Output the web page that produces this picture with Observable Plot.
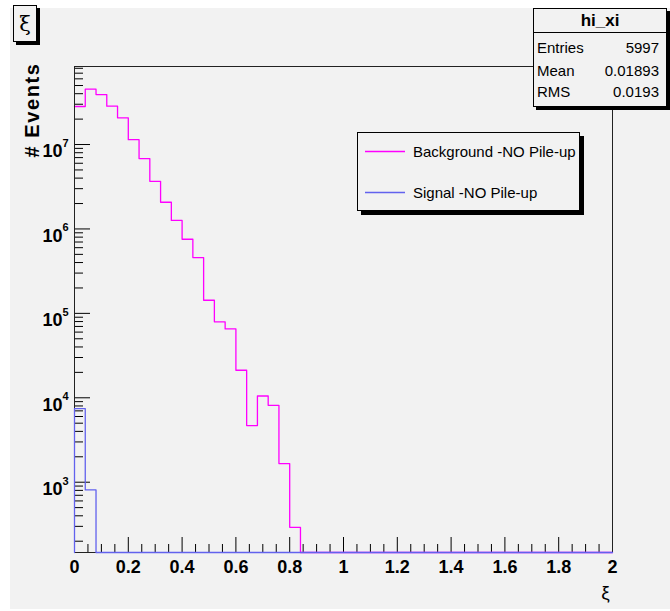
<!DOCTYPE html>
<html>
<head>
<meta charset="utf-8">
<script src="https://cdn.jsdelivr.net/npm/d3@7"></script>
<script src="https://cdn.jsdelivr.net/npm/@observablehq/plot@0.6"></script>
<style>
  html, body { margin: 0; padding: 0; background: #ffffff; }
  #chart { width: 670px; height: 611px; }
  svg text { font-family: "Liberation Sans", Arial, Helvetica, sans-serif; }
</style>
</head>
<body>
<div id="chart"></div>
<script>
// ---- data ----
const binWidth = 0.04;           // histogram bin width in ξ
const xMin = 0, xMax = 2;        // x range
const background = [ // Background -NO Pile-up, events per bin (50 bins, 0..2)
  2.82e7, 4.52e7, 3.91e7, 2.85e7, 2.07e7, 1.14e7, 6.82e6, 3.67e6, 2.07e6, 1.26e6,
  7.55e5, 4.58e5, 1.43e5, 7.93e4, 6.55e4, 2.12e4, 4.69e3, 1.05e4, 8.15e3, 1.66e3,
  292, 0, 0, 0, 0, 0, 0, 0, 0, 0,
  0, 0, 0, 0, 0, 0, 0, 0, 0, 0,
  0, 0, 0, 0, 0, 0, 0, 0, 0, 0
];
const signal = [ // Signal -NO Pile-up
  7.45e3, 811, 0, 0, 0, 0, 0, 0, 0, 0,
  0, 0, 0, 0, 0, 0, 0, 0, 0, 0,
  0, 0, 0, 0, 0, 0, 0, 0, 0, 0,
  0, 0, 0, 0, 0, 0, 0, 0, 0, 0,
  0, 0, 0, 0, 0, 0, 0, 0, 0, 0
];
const yDomain = [147, 8.4e7];
const xMajorTicks = [0, 0.2, 0.4, 0.6, 0.8, 1, 1.2, 1.4, 1.6, 1.8, 2];
const xMinorTicks = [0.05,0.1,0.15,0.25,0.3,0.35,0.45,0.5,0.55,0.65,0.7,0.75,0.85,0.9,0.95,
  1.05,1.1,1.15,1.25,1.3,1.35,1.45,1.5,1.55,1.65,1.7,1.75,1.85,1.9,1.95];
const yMajorTicks = [1e3, 1e4, 1e5, 1e6, 1e7];
const yMinorTicks = [200,300,400,500,600,700,800,900,
  2e3,3e3,4e3,5e3,6e3,7e3,8e3,9e3,
  2e4,3e4,4e4,5e4,6e4,7e4,8e4,9e4,
  2e5,3e5,4e5,5e5,6e5,7e5,8e5,9e5,
  2e6,3e6,4e6,5e6,6e6,7e6,8e6,9e6,
  2e7,3e7,4e7,5e7,6e7,7e7,8e7];
const histName = "hi_xi";
const statLabels = ["Entries", "Mean", "RMS"];
const statValues = ["5997", "0.01893", "0.0193"];
const seriesNames = ["Background -NO Pile-up", "Signal -NO Pile-up"];
const seriesColors = ["#ff00ff", "#6262ee"];
const yTitle = "# Events";
const xTitle = "ξ";

// ---- histogram outline vertices ----
function steps(values) {
  const pts = [];
  values.forEach((v, i) => {
    const lo = xMin + i * binWidth, hi = lo + binWidth;
    const y = Math.max(v, yDomain[0]);
    pts.push({x: lo, y}, {x: hi, y});
  });
  return pts;
}
const bgPts = steps(background);
const sigPts = [{x: xMin, y: yDomain[0]}, ...steps(signal)];

const W = 670, H = 611, mL = 74, mR = 58, mT = 66, mB = 59;
const frameW = W - mL - mR, frameH = H - mT - mB;
const tickFont = {fontSize: 18, fontWeight: "bold", fill: "#000"};

const chart = Plot.plot({
  width: W, height: H,
  marginLeft: mL, marginRight: mR, marginTop: mT, marginBottom: mB,
  style: {background: "transparent", fontFamily: "Liberation Sans, Arial, sans-serif"},
  x: {domain: [xMin, xMax], axis: null},
  y: {type: "log", domain: yDomain, axis: null},
  marks: [
    // ticks
    Plot.ruleX(xMajorTicks, {x: d => d, insetTop: frameH - 15, stroke: "#000"}),
    Plot.ruleX(xMinorTicks, {x: d => d, insetTop: frameH - 8, stroke: "#000"}),
    Plot.ruleY(yMajorTicks, {y: d => d, insetRight: frameW - 16, stroke: "#000"}),
    Plot.ruleY(yMinorTicks, {y: d => d, insetRight: frameW - 9, stroke: "#000"}),
    // histograms
    Plot.line(bgPts, {x: "x", y: "y", stroke: seriesColors[0], strokeWidth: 1.3}),
    Plot.frame({stroke: "#222", strokeWidth: 1}),
    Plot.line(sigPts, {x: "x", y: "y", stroke: seriesColors[1], strokeWidth: 1.3}),
    // x tick labels
    Plot.text(xMajorTicks, {x: d => d, frameAnchor: "bottom", dy: 15, lineAnchor: "middle",
      text: d => String(+d.toFixed(1)), ...tickFont}),
    // y tick labels 10^n
    Plot.text(yMajorTicks, {y: d => d, frameAnchor: "left", dx: -12, dy: 7, lineAnchor: "middle",
      textAnchor: "end", text: () => "10", ...tickFont}),
    Plot.text(yMajorTicks, {y: d => d, frameAnchor: "left", dx: -12, dy: -1, lineAnchor: "middle",
      textAnchor: "start", text: d => String(Math.round(Math.log10(d))), fontSize: 11, fontWeight: "bold", fill: "#000"}),
    // x axis title
    Plot.text([xTitle], {frameAnchor: "bottom-right", dx: -7, dy: 40, textAnchor: "middle", lineAnchor: "middle",
      text: d => d, fontSize: 19, fontFamily: "DejaVu Serif, serif", fill: "#000"})
  ]
});

document.getElementById("chart").appendChild(chart);

// ---- pad, y title, title box, stats box, legend ----
const svg = d3.select(chart);
svg.insert("rect", ":first-child")
  .attr("x", 10).attr("y", 8).attr("width", 660).attr("height", 601).attr("fill", "#f2f2f2");

const deco = svg.append("g").attr("text-anchor", "start").attr("fill", "#000");

// y axis title
deco.append("text").attr("transform", "translate(39,110) rotate(-90)")
  .attr("text-anchor", "middle").attr("font-size", 20).attr("font-weight", "bold")
  .attr("letter-spacing", "1.6px").text(yTitle);

// title box
deco.append("rect").attr("x", 16).attr("y", 8).attr("width", 24).attr("height", 37).attr("fill", "#000");
deco.append("rect").attr("x", 13.5).attr("y", 5.5).attr("width", 23).attr("height", 36)
  .attr("fill", "#f2f2f2").attr("stroke", "#000");
deco.append("text").attr("x", 25).attr("y", 31).attr("text-anchor", "middle")
  .style("font-family", "DejaVu Serif, serif").attr("font-size", 21).text(xTitle);

// stats box
deco.append("rect").attr("x", 536).attr("y", 11).attr("width", 140).attr("height", 99).attr("fill", "#000");
deco.append("rect").attr("x", 533.5).attr("y", 8.5).attr("width", 133).attr("height", 98)
  .attr("fill", "#f2f2f2").attr("stroke", "#000");
deco.append("line").attr("x1", 533.5).attr("x2", 666.5).attr("y1", 32.5).attr("y2", 32.5).attr("stroke", "#000");
deco.append("text").attr("x", 600).attr("y", 26).attr("text-anchor", "middle")
  .attr("font-size", 17).attr("font-weight", "bold").text(histName);
const rowY = [53, 76, 97];
statLabels.forEach((s, i) => {
  deco.append("text").attr("x", 537).attr("y", rowY[i]).attr("text-anchor", "start")
    .attr("font-size", 15).text(s);
  deco.append("text").attr("x", 659).attr("y", rowY[i]).attr("text-anchor", "end")
    .attr("font-size", 15).text(statValues[i]);
});

// legend
deco.append("rect").attr("x", 361).attr("y", 136).attr("width", 223).attr("height", 79).attr("fill", "#000");
deco.append("rect").attr("x", 357.5).attr("y", 132.5).attr("width", 222).attr("height", 78)
  .attr("fill", "#f2f2f2").attr("stroke", "#000");
const legY = [151.5, 192.5];
seriesNames.forEach((s, i) => {
  deco.append("line").attr("x1", 365).attr("x2", 405).attr("y1", legY[i]).attr("y2", legY[i])
    .attr("stroke", seriesColors[i]).attr("stroke-width", 1.3);
  deco.append("text").attr("x", 413).attr("y", legY[i] + 5.5).attr("text-anchor", "start")
    .attr("font-size", 15).text(s);
});
</script>
</body>
</html>
